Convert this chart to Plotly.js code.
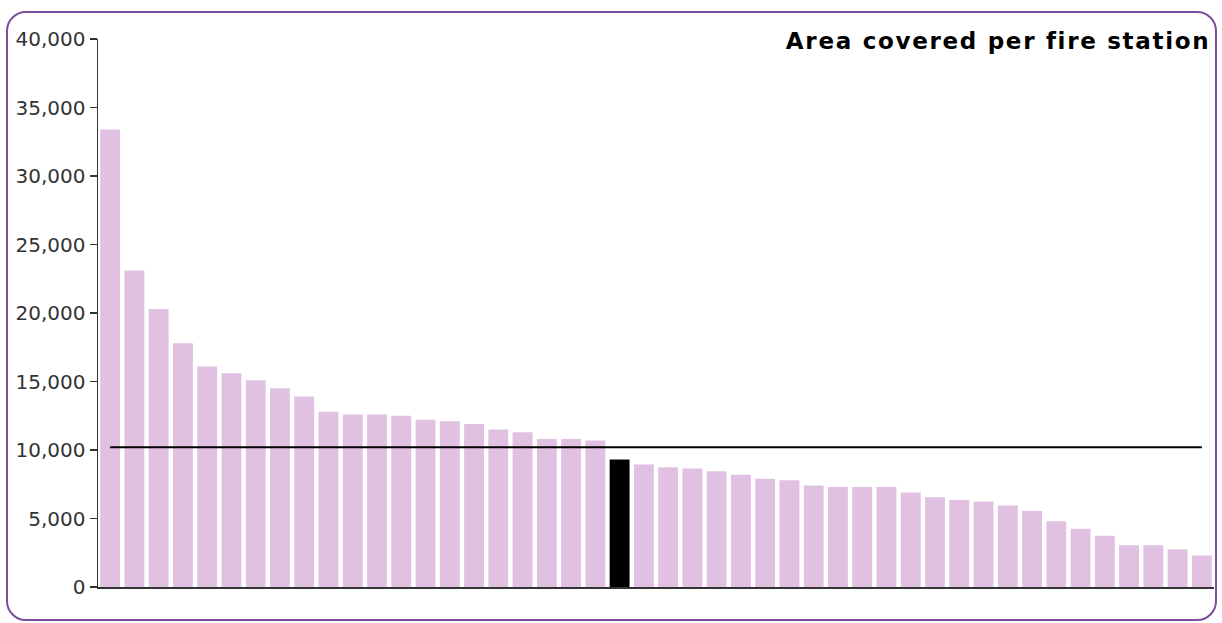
<!DOCTYPE html>
<html>
<head>
<meta charset="utf-8">
<script src="https://cdn.plot.ly/plotly-3.0.1.min.js"></script>
<style>
  html, body { margin: 0; padding: 0; background: #ffffff; }
  #chart { position: absolute; left: 0; top: 0; width: 1222px; height: 623px; }
  #frame { position: absolute; left: 6px; top: 11px; width: 1211px; height: 610px;
           border: 2px solid #7a4f9e; border-radius: 20px; box-sizing: border-box;
           pointer-events: none; }
  #chart .gtitle { letter-spacing: 1.7px; }
</style>
</head>
<body>
<div id="chart"></div>
<div id="frame"></div>
<script>
// ---- data ----
const stations = [
  "S1","S2","S3","S4","S5","S6","S7","S8","S9","S10",
  "S11","S12","S13","S14","S15","S16","S17","S18","S19","S20",
  "S21","S22","S23","S24","S25","S26","S27","S28","S29","S30",
  "S31","S32","S33","S34","S35","S36","S37","S38","S39","S40",
  "S41","S42","S43","S44","S45","S46"
];
const areaPerStation = [
  33400, 23100, 20300, 17800, 16100, 15600, 15100, 14500, 13900, 12800,
  12600, 12600, 12500, 12200, 12100, 11900, 11500, 11300, 10800, 10800,
  10700, 9300, 8950, 8750, 8650, 8450, 8200, 7900, 7800, 7400,
  7300, 7300, 7300, 6900, 6550, 6350, 6250, 5950, 5550, 4800,
  4250, 3750, 3050, 3050, 2750, 2300
];
const highlightStation = "S22";
const averageArea = 10200;
const yTickValues = [0, 5000, 10000, 15000, 20000, 25000, 30000, 35000, 40000];
const yTickLabels = ["0", "5,000", "10,000", "15,000", "20,000", "25,000", "30,000", "35,000", "40,000"];
const chartTitle = "Area covered per fire station";

// ---- styles ----
const barColor = "#e0c1e2";
const highlightColor = "#000000";
const colors = stations.map(s => s === highlightStation ? highlightColor : barColor);

const traces = [
  {
    type: "bar",
    x: stations,
    y: areaPerStation,
    marker: { color: colors, line: { width: 0 } },
    hoverinfo: "x+y",
    showlegend: false
  },
  {
    type: "scatter",
    mode: "lines",
    x: [stations[0], stations[stations.length - 1]],
    y: [averageArea, averageArea],
    line: { color: "#000000", width: 2 },
    hoverinfo: "y",
    showlegend: false
  }
];

const layout = {
  width: 1222,
  height: 623,
  margin: { l: 98, r: 8, t: 39, b: 36 },
  paper_bgcolor: "rgba(0,0,0,0)",
  plot_bgcolor: "rgba(0,0,0,0)",
  font: { family: "DejaVu Sans, Verdana, sans-serif", color: "#333333" },
  title: {
    text: "<b>" + chartTitle + "</b>",
    font: { family: "DejaVu Sans, Verdana, sans-serif", size: 23, color: "#000000" },
    xref: "container", yref: "container",
    x: 0.9905, xanchor: "right",
    y: 0.935, yanchor: "middle"
  },
  bargap: 0.18,
  xaxis: {
    type: "category",
    range: [-0.5, stations.length - 0.5],
    showticklabels: false,
    ticks: "",
    showgrid: false,
    zeroline: false,
    showline: true,
    linecolor: "#333333",
    linewidth: 1.5,
    fixedrange: true
  },
  yaxis: {
    range: [0, 40000],
    tickvals: yTickValues,
    ticktext: yTickLabels,
    ticks: "outside",
    ticklen: 7,
    tickwidth: 1.2,
    tickcolor: "#333333",
    tickfont: { size: 20, color: "#333333" },
    showgrid: false,
    zeroline: false,
    showline: true,
    linecolor: "#333333",
    linewidth: 1.5,
    fixedrange: true
  }
};

Plotly.newPlot("chart", traces, layout, { displayModeBar: false, staticPlot: true });
</script>
</body>
</html>
